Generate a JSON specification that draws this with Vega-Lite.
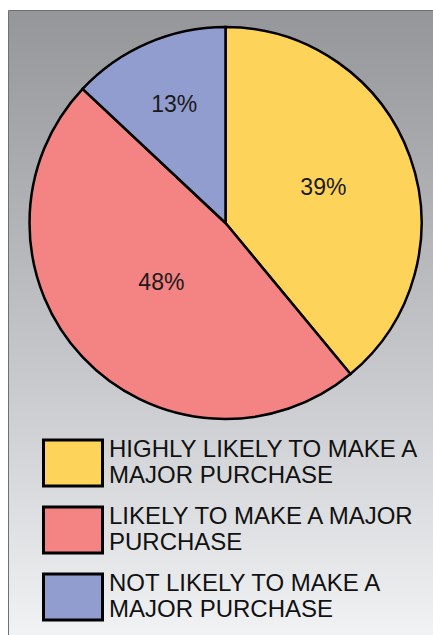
{
  "$schema": "https://vega.github.io/schema/vega-lite/v6.json",
  "description": "Likelihood of making a major purchase",
  "width": 425,
  "height": 625,
  "autosize": {"type": "none"},
  "padding": {"left": 8, "top": 10, "right": 0, "bottom": 0},
  "background": "white",
  "view": {
    "fill": {
      "gradient": "linear",
      "x1": 0, "y1": 0, "x2": 0, "y2": 1,
      "stops": [
        {"offset": 0, "color": "#95969a"},
        {"offset": 0.6, "color": "#c9cacd"},
        {"offset": 1, "color": "#f1f2f4"}
      ]
    },
    "stroke": "#707070",
    "strokeWidth": 1,
    "strokeDash": [425, 1050, 625, 0]
  },
  "config": {
    "style": {"guide-label": {"lineHeight": 26, "dy": -13}}
  },
  "data": {
    "values": [
      {"category": "HIGHLY LIKELY TO MAKE A MAJOR PURCHASE", "pct": 39, "label": "39%"},
      {"category": "LIKELY TO MAKE A MAJOR PURCHASE", "pct": 48, "label": "48%"},
      {"category": "NOT LIKELY TO MAKE A MAJOR PURCHASE", "pct": 13, "label": "13%"}
    ]
  },
  "encoding": {
    "x": {"datum": 0.5118, "type": "quantitative", "scale": {"domain": [0, 1]}, "axis": null},
    "y": {"datum": 0.3408, "type": "quantitative", "scale": {"domain": [0, 1], "reverse": true}, "axis": null},
    "theta": {"field": "pct", "type": "quantitative", "stack": true},
    "order": {"field": "category", "type": "nominal", "sort": "ascending"}
  },
  "layer": [
    {
      "mark": {"type": "arc", "radius": 196, "stroke": "#000", "strokeWidth": 2.5},
      "encoding": {
        "color": {
          "field": "category",
          "type": "nominal",
          "scale": {"range": ["#fed35a", "#f48383", "#919dcf"]},
          "legend": {
            "title": null,
            "orient": "none",
            "legendX": 34,
            "legendY": 422,
            "direction": "vertical",
            "symbolType": "M-1,-0.78H1V0.78H-1Z",
            "symbolSize": 3481,
            "symbolStrokeColor": "#000",
            "symbolStrokeWidth": 3,
            "symbolOpacity": 1,
            "rowPadding": 6,
            "labelOffset": 5,
            "labelFont": "Liberation Sans",
            "labelFontSize": 24,
            "labelColor": "#111",
            "labelLimit": 0,
            "labelExpr": "datum.label == 'HIGHLY LIKELY TO MAKE A MAJOR PURCHASE' ? ['HIGHLY LIKELY TO MAKE A', 'MAJOR PURCHASE'] : datum.label == 'LIKELY TO MAKE A MAJOR PURCHASE' ? ['LIKELY TO MAKE A MAJOR', 'PURCHASE'] : ['NOT LIKELY TO MAKE A', 'MAJOR PURCHASE']"
          }
        }
      }
    },
    {
      "mark": {"type": "text", "font": "Liberation Sans", "fontSize": 23, "color": "#1a1a1a"},
      "encoding": {
        "detail": {"field": "category", "type": "nominal"},
        "radius": {
          "field": "pct",
          "type": "quantitative",
          "scale": {"type": "linear", "zero": false, "domain": [13, 39, 48], "range": [129, 104, 88]}
        },
        "text": {"field": "label", "type": "nominal"}
      }
    }
  ]
}
